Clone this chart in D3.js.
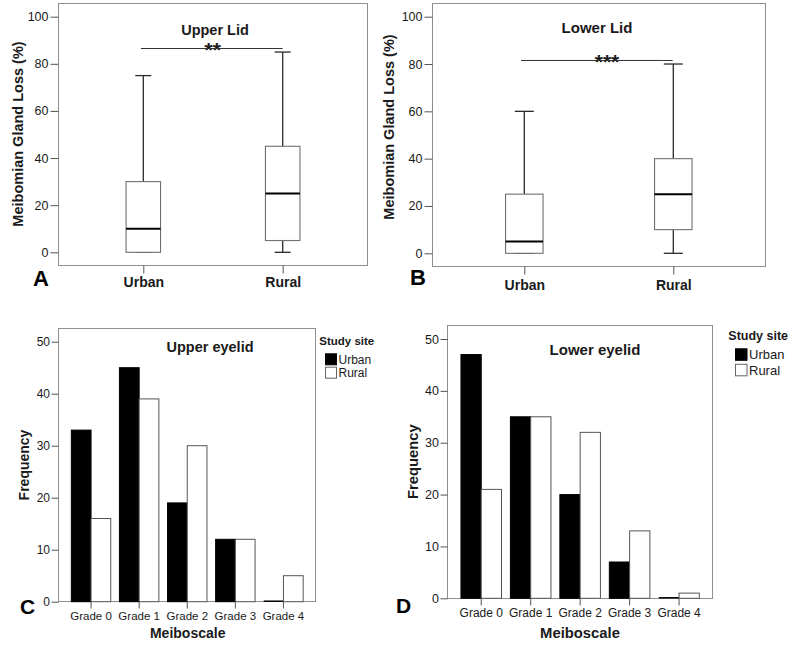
<!DOCTYPE html>
<html>
<head>
<meta charset="utf-8">
<script src="https://cdn.jsdelivr.net/npm/d3@7"></script>
<style>
  html, body { margin: 0; padding: 0; background: #fff; }
  svg { display: block; font-family: "Liberation Sans", Arial, sans-serif; }
</style>
</head>
<body>
<svg id="chart" width="791" height="647"></svg>
<script>
// ---------------- DATA ----------------
const boxCategories = ["Urban", "Rural"];
// [min, q1, median, q3, max]
const upperLidBoxes = [[0, 0, 10, 30, 75], [0, 5, 25, 45, 85]];
const lowerLidBoxes = [[0, 0, 5, 25, 60], [0, 10, 25, 40, 80]];
const upperLidSigLevel = 86.5;
const lowerLidSigLevel = 81.5;
const upperLidStars = "**";
const lowerLidStars = "***";
const lossTicks = [0, 20, 40, 60, 80, 100];

const grades = ["Grade 0", "Grade 1", "Grade 2", "Grade 3", "Grade 4"];
const sites = ["Urban", "Rural"];
const upperUrban = [33, 45, 19, 12, 0];
const upperRural = [16, 39, 30, 12, 5];
const lowerUrban = [47, 35, 20, 7, 0];
const lowerRural = [21, 35, 32, 13, 1];
const freqTicks = [0, 10, 20, 30, 40, 50];

// ---------------- DRAWING ----------------
const svg = d3.select("#chart");
const FRAME = "#8e8e8e";
const TXT = "#1a1a1a";

function styleAxis(g, fs) {
  g.select(".domain").remove();
  g.selectAll(".tick line").attr("stroke", "#555").attr("stroke-width", 1);
  g.selectAll(".tick text").attr("fill", TXT).attr("font-size", fs).attr("font-family", "Liberation Sans, Arial, sans-serif");
}

function boxPanel(o) {
  const g = svg.append("g");
  const y = d3.scaleLinear().domain([0, 100]).range([o.y0px, o.y100px]);
  const x = d3.scalePoint().domain(boxCategories).range(o.xr);

  g.append("rect").attr("x", o.fx0).attr("y", o.fy0)
    .attr("width", o.fx1 - o.fx0).attr("height", o.fy1 - o.fy0)
    .attr("fill", "none").attr("stroke", FRAME).attr("stroke-width", 1);

  const ya = g.append("g").attr("transform", `translate(${o.fx0},0)`)
    .call(d3.axisLeft(y).tickValues(lossTicks).tickSize(8).tickPadding(2));
  styleAxis(ya, 12.5);

  const xa = g.append("g").attr("transform", `translate(0,${o.fy1})`)
    .call(d3.axisBottom(x).tickSize(8));
  styleAxis(xa, 14);
  xa.selectAll(".tick text").attr("font-weight", "bold").attr("dy", null).attr("y", o.xlabDy);

  const bw = o.boxW, cw = o.capW;
  o.data.forEach((d, i) => {
    const cx = x(boxCategories[i]);
    const [mn, q1, md, q3, mx] = d;
    g.append("line").attr("x1", cx).attr("x2", cx).attr("y1", y(q3)).attr("y2", y(mx))
      .attr("stroke", "#2a2a2a").attr("stroke-width", 1.3);
    g.append("line").attr("x1", cx).attr("x2", cx).attr("y1", y(q1)).attr("y2", y(mn))
      .attr("stroke", "#2a2a2a").attr("stroke-width", 1.3);
    [mn, mx].forEach(v => {
      g.append("line").attr("x1", cx - cw).attr("x2", cx + cw).attr("y1", y(v)).attr("y2", y(v))
        .attr("stroke", "#2a2a2a").attr("stroke-width", 1.3);
    });
    g.append("rect").attr("x", cx - bw / 2).attr("y", y(q3))
      .attr("width", bw).attr("height", y(q1) - y(q3))
      .attr("fill", "#fff").attr("stroke", "#707070").attr("stroke-width", 1.1);
    g.append("line").attr("x1", cx - bw / 2).attr("x2", cx + bw / 2).attr("y1", y(md)).attr("y2", y(md))
      .attr("stroke", "#000").attr("stroke-width", 2);
  });

  const sy = y(o.sig);
  g.append("text").attr("x", o.starsX).attr("y", sy + 8.5).attr("text-anchor", "middle")
    .attr("font-size", 21).attr("font-weight", "bold").attr("fill", TXT).text(o.stars);
  g.append("line").attr("x1", o.sigX[0]).attr("x2", o.sigX[1]).attr("y1", sy).attr("y2", sy)
    .attr("stroke", "#333").attr("stroke-width", 1);

  g.append("text").attr("x", o.titleX).attr("y", o.titleY).attr("text-anchor", "middle")
    .attr("font-size", o.titleFs).attr("font-weight", "bold").attr("fill", TXT).text(o.title);

  g.append("text").attr("transform", `translate(${o.ylabX},${o.ylabY}) rotate(-90)`)
    .attr("text-anchor", "middle").attr("font-size", 14.5).attr("font-weight", "bold")
    .attr("fill", TXT).text("Meibomian Gland Loss (%)");

  g.append("text").attr("x", o.letterX).attr("y", o.letterY)
    .attr("font-size", 22).attr("font-weight", "bold").attr("fill", "#000").text(o.letter);
}

function barPanel(o) {
  const g = svg.append("g");
  const y = d3.scaleLinear().domain([0, 50]).range([o.y0px, o.y50px]);
  const x = d3.scaleBand().domain(grades).range(o.xr).paddingInner(0.18).paddingOuter(0.09);
  const xs = d3.scaleBand().domain(sites).range([0, x.bandwidth()]);

  g.append("rect").attr("x", o.fx0).attr("y", o.fy0)
    .attr("width", o.fx1 - o.fx0).attr("height", o.fy1 - o.fy0)
    .attr("fill", "none").attr("stroke", FRAME).attr("stroke-width", 1);

  const ya = g.append("g").attr("transform", `translate(${o.fx0},0)`)
    .call(d3.axisLeft(y).tickValues(freqTicks).tickSize(7).tickPadding(1.5));
  styleAxis(ya, o.tickFs);

  const series = [o.urban, o.rural];
  series.forEach((vals, si) => {
    g.selectAll(null).data(vals).enter().append("rect")
      .attr("x", (d, i) => x(grades[i]) + xs(sites[si]))
      .attr("y", d => y(d))
      .attr("width", xs.bandwidth())
      .attr("height", d => y(0) - y(d))
      .attr("fill", si === 0 ? "#000" : "#fff")
      .attr("stroke", si === 0 ? "#000" : "#555")
      .attr("stroke-width", 1);
    // zero-height bars appear as a flat line on the baseline
    g.selectAll(null).data(vals.map((v, i) => [v, i]).filter(p => p[0] === 0)).enter().append("line")
      .attr("x1", p => x(grades[p[1]]) + xs(sites[si]))
      .attr("x2", p => x(grades[p[1]]) + xs(sites[si]) + xs.bandwidth())
      .attr("y1", y(0) - 0.5).attr("y2", y(0) - 0.5)
      .attr("stroke", "#000").attr("stroke-width", 1.5);
  });

  const xa = g.append("g").attr("transform", `translate(0,${o.fy1})`)
    .call(d3.axisBottom(x).tickSize(7));
  styleAxis(xa, o.gradeFs);
  xa.selectAll(".tick text").attr("dy", null).attr("y", o.xlabDy);

  g.append("text").attr("x", o.titleX).attr("y", o.titleY).attr("text-anchor", "middle")
    .attr("font-size", o.titleFs).attr("font-weight", "bold").attr("fill", TXT).text(o.title);

  g.append("text").attr("x", o.xTitleX).attr("y", o.xTitleY).attr("text-anchor", "middle")
    .attr("font-size", o.xTitleFs).attr("font-weight", "bold").attr("fill", TXT).text("Meiboscale");

  g.append("text").attr("transform", `translate(${o.ylabX},${o.ylabY}) rotate(-90)`)
    .attr("text-anchor", "middle").attr("font-size", o.xTitleFs).attr("font-weight", "bold")
    .attr("fill", TXT).text("Frequency");

  g.append("text").attr("x", o.letterX).attr("y", o.letterY)
    .attr("font-size", 21).attr("font-weight", "bold").attr("fill", "#000").text(o.letter);

  const L = o.legend;
  g.append("text").attr("x", L.x).attr("y", L.y).attr("font-size", L.fs).attr("font-weight", "bold")
    .attr("fill", TXT).text("Study site");
  sites.forEach((s, i) => {
    const ry = L.sy + i * L.step;
    g.append("rect").attr("x", L.sx + 0.5).attr("y", ry + 0.5).attr("width", L.sw).attr("height", L.sw)
      .attr("fill", i === 0 ? "#000" : "#fff").attr("stroke", i === 0 ? "#000" : "#666").attr("stroke-width", 1);
    g.append("text").attr("x", L.sx + L.sw + 2.5).attr("y", ry + L.sw - 0.5)
      .attr("font-size", L.fs + 0.5).attr("fill", TXT).text(s);
  });
}

boxPanel({
  fx0: 58.5, fx1: 367.5, fy0: 3.5, fy1: 265.5,
  y0px: 252.3, y100px: 16.7, xr: [143.3, 282.7],
  boxW: 34.5, capW: 8, data: upperLidBoxes,
  sig: upperLidSigLevel, sigX: [141, 282.7], stars: upperLidStars, starsX: 212.7,
  title: "Upper Lid", titleX: 215, titleY: 34.5, titleFs: 14.5,
  xlabDy: 21.5, ylabX: 22.5, ylabY: 134,
  letter: "A", letterX: 33, letterY: 286
});

boxPanel({
  fx0: 432.5, fx1: 765.5, fy0: 3.5, fy1: 266.5,
  y0px: 253.3, y100px: 16.7, xr: [524.3, 673.3],
  boxW: 37.5, capW: 9.5, data: lowerLidBoxes,
  sig: lowerLidSigLevel, sigX: [521, 672.7], stars: lowerLidStars, starsX: 607,
  title: "Lower Lid", titleX: 597, titleY: 32.5, titleFs: 15,
  xlabDy: 23, ylabX: 393.5, ylabY: 127,
  letter: "B", letterX: 410, letterY: 285
});

barPanel({
  fx0: 58.5, fx1: 315.5, fy0: 328.5, fy1: 601.5,
  y0px: 601.7, y50px: 341.7, xr: [67, 307.5],
  urban: upperUrban, rural: upperRural,
  tickFs: 12, gradeFs: 11.5, xlabDy: 18,
  title: "Upper eyelid", titleX: 210, titleY: 352, titleFs: 14.5,
  xTitleX: 187.7, xTitleY: 638, xTitleFs: 14,
  ylabX: 29, ylabY: 465,
  letter: "C", letterX: 20, letterY: 614,
  legend: { x: 319.3, y: 345, fs: 11.5, sx: 325, sy: 353.3, sw: 11, step: 13.4 }
});

barPanel({
  fx0: 447.5, fx1: 712.5, fy0: 325.5, fy1: 598.5,
  y0px: 598.3, y50px: 339, xr: [456.5, 703.8],
  urban: lowerUrban, rural: lowerRural,
  tickFs: 12.5, gradeFs: 12, xlabDy: 18.5,
  title: "Lower eyelid", titleX: 595, titleY: 355, titleFs: 15,
  xTitleX: 580, xTitleY: 637.7, xTitleFs: 14.8,
  ylabX: 418, ylabY: 461.7,
  letter: "D", letterX: 396, letterY: 613.3,
  legend: { x: 728.3, y: 340, fs: 12.5, sx: 735, sy: 348.3, sw: 11.5, step: 15.5 }
});
</script>
</body>
</html>
